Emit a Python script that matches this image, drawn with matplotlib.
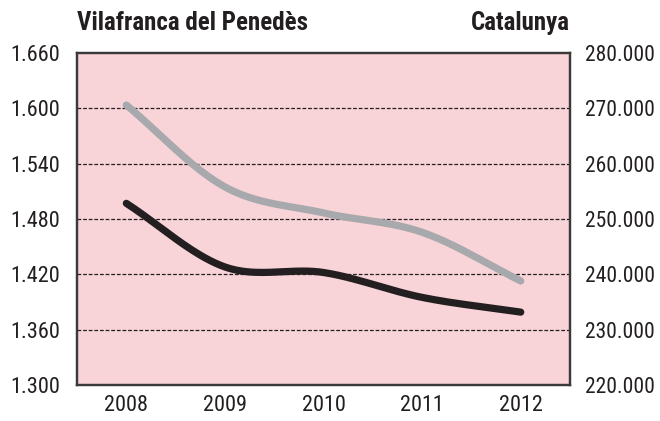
import numpy as np
import matplotlib.pyplot as plt
from matplotlib.ticker import FuncFormatter

plt.rcParams['font.family'] = ['Roboto Condensed', 'DejaVu Sans']

years = [2008, 2009, 2010, 2011, 2012]
vilafranca = [1.497, 1.428, 1.422, 1.395, 1.379]      # left axis
catalunya = [270600, 255800, 251100, 247600, 238800]  # right axis

left_ticks = [1.300, 1.360, 1.420, 1.480, 1.540, 1.600, 1.660]
right_ticks = [220000, 230000, 240000, 250000, 260000, 270000, 280000]


def smooth(x, y, n=40):
    # Catmull-Rom spline through the points
    x = np.asarray(x, float)
    y = np.asarray(y, float)
    px = np.concatenate([[2 * x[0] - x[1]], x, [2 * x[-1] - x[-2]]])
    py = np.concatenate([[2 * y[0] - y[1]], y, [2 * y[-1] - y[-2]]])
    xs, ys = [], []
    t = np.linspace(0, 1, n)
    for i in range(1, len(px) - 2):
        for p, out in ((px, xs), (py, ys)):
            p0, p1, p2, p3 = p[i - 1], p[i], p[i + 1], p[i + 2]
            out.append(0.5 * (2 * p1 + (-p0 + p2) * t
                              + (2 * p0 - 5 * p1 + 4 * p2 - p3) * t ** 2
                              + (-p0 + 3 * p1 - 3 * p2 + p3) * t ** 3))
    return np.concatenate(xs), np.concatenate(ys)


fig = plt.figure(figsize=(6.6, 4.21), dpi=100)
ax = fig.add_axes([0.1167, 0.0855, 0.747, 0.7886])
ax.set_facecolor('#f8d3d8')
ax2 = ax.twinx()

ax.set_xlim(2007.5, 2012.5)
ax.set_ylim(1.300, 1.660)
ax2.set_ylim(220000, 280000)

for v in left_ticks[1:-1]:
    ax.axhline(v, color='#231f20', lw=0.9, ls=(0, (3, 1.5)), zorder=1)

sx, sy = smooth(years, catalunya)
ax2.plot(sx, sy, color='#a7a9ac', lw=5.2, solid_capstyle='round', zorder=3)
sx, sy = smooth(years, vilafranca)
ax.plot(sx, sy, color='#231f20', lw=5.2, solid_capstyle='round', zorder=3)

ax.set_xticks(years)
ax.set_yticks(left_ticks)
ax2.set_yticks(right_ticks)
ax.yaxis.set_major_formatter(FuncFormatter(lambda v, p: f'{v:.3f}'))
ax2.yaxis.set_major_formatter(
    FuncFormatter(lambda v, p: f'{v:,.0f}'.replace(',', '.')))

ax.tick_params(axis='x', length=0, pad=7, labelsize=16, colors='#231f20')
ax.tick_params(axis='y', length=0, pad=12, labelsize=16, colors='#231f20')
ax2.tick_params(axis='y', length=0, pad=11, labelsize=15.5, colors='#231f20')

for a in (ax, ax2):
    for s in a.spines.values():
        s.set_color('#3a3a3a')
        s.set_linewidth(1.6)

fig.text(0.1167, 0.945, 'Vilafranca del Penedès', fontsize=18, fontweight='bold',
         ha='left', va='center', color='#231f20')
fig.text(0.8636, 0.945, 'Catalunya', fontsize=18, fontweight='bold',
         ha='right', va='center', color='#231f20')

fig.savefig('out.png', dpi=100)
